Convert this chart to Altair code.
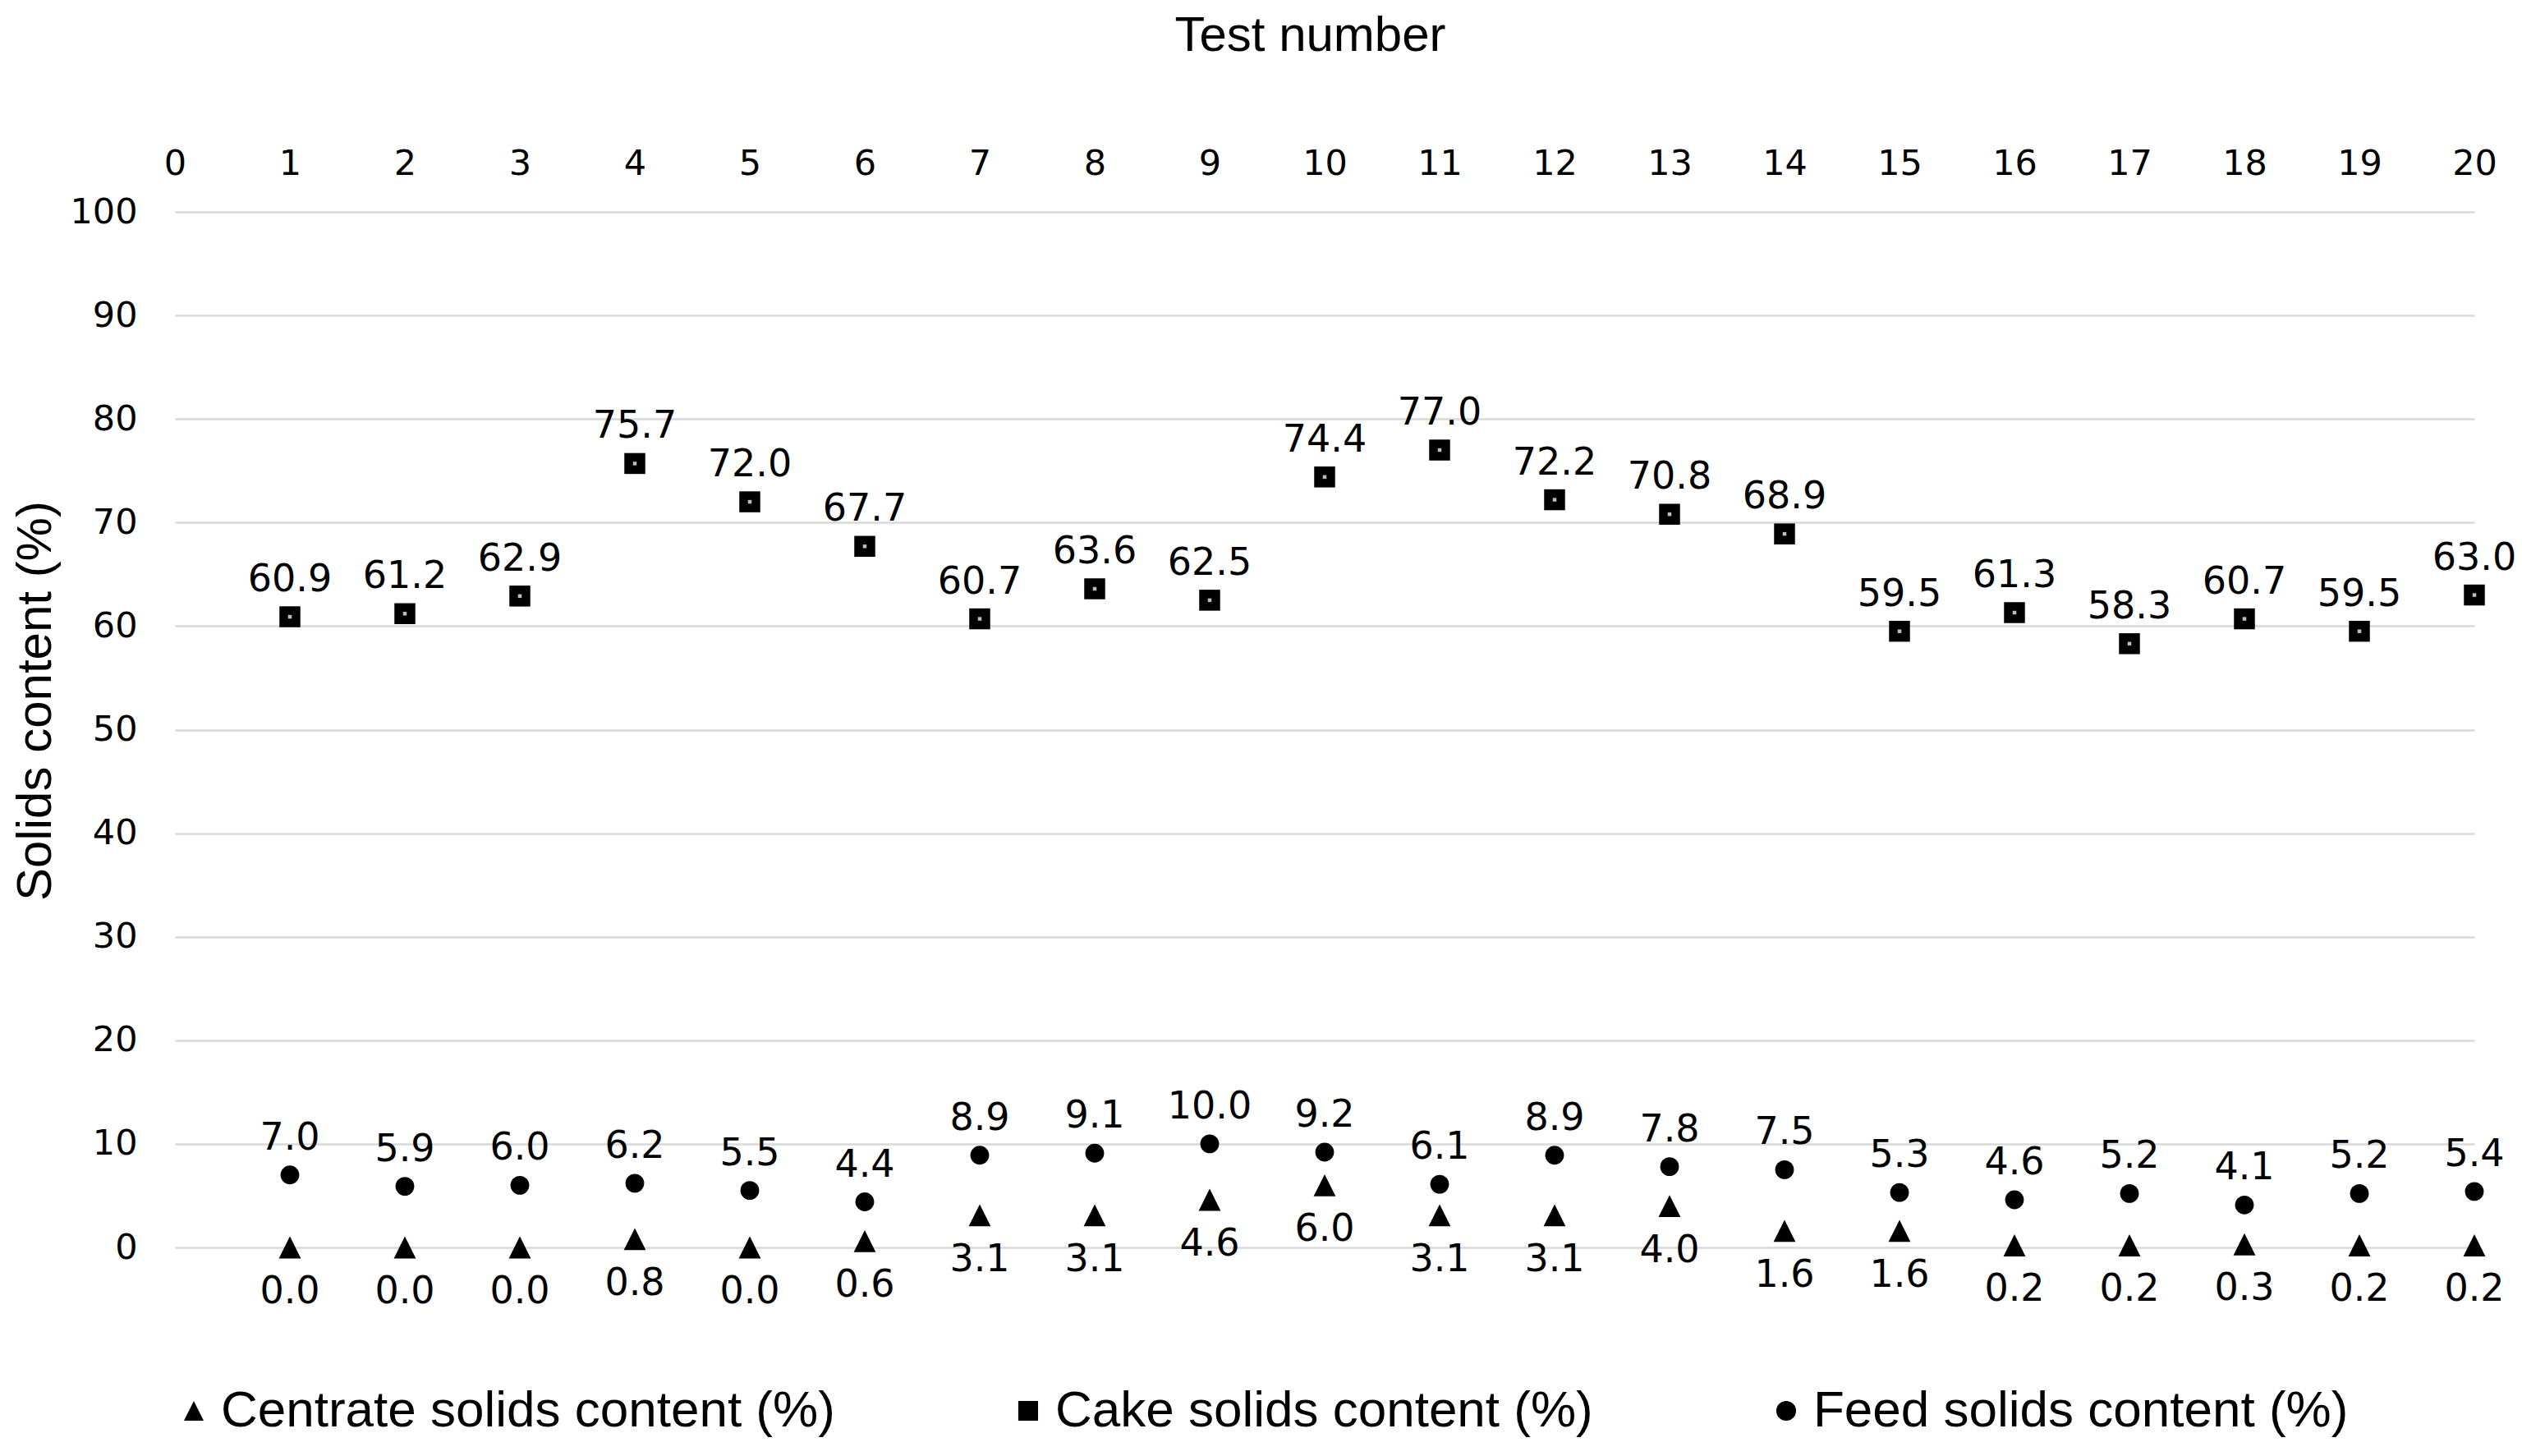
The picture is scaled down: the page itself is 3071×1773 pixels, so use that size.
import altair as alt
import pandas as pd

# values
tests = list(range(1, 21))
cake = [60.9, 61.2, 62.9, 75.7, 72.0, 67.7, 60.7, 63.6, 62.5, 74.4,
        77.0, 72.2, 70.8, 68.9, 59.5, 61.3, 58.3, 60.7, 59.5, 63.0]
feed = [7.0, 5.9, 6.0, 6.2, 5.5, 4.4, 8.9, 9.1, 10.0, 9.2,
        6.1, 8.9, 7.8, 7.5, 5.3, 4.6, 5.2, 4.1, 5.2, 5.4]
centrate = [0.0, 0.0, 0.0, 0.8, 0.0, 0.6, 3.1, 3.1, 4.6, 6.0,
            3.1, 3.1, 4.0, 1.6, 1.6, 0.2, 0.2, 0.3, 0.2, 0.2]
series_names = ["Centrate solids content (%)",
                "Cake solids content (%)",
                "Feed solids content (%)"]
x_ticks = list(range(0, 21))
y_ticks = list(range(0, 101, 10))

df = pd.DataFrame({
    "test": tests * 3,
    "value": centrate + cake + feed,
    "series": [series_names[0]] * 20 + [series_names[1]] * 20 + [series_names[2]] * 20,
})

TICK_FONT = "DejaVu Sans"
TEXT_FONT = "Liberation Sans"
TRIANGLE = "M0,-1L1,1L-1,1Z"

x = alt.X("test:Q",
          scale=alt.Scale(domain=[0, 20], nice=False, zero=False),
          axis=alt.Axis(orient="top", values=x_ticks, format="d",
                        title="Test number", titleFont=TEXT_FONT, titleFontSize=60,
                        titleFontWeight="normal", titleColor="black",
                        titleX=1382, titleY=-215, titleBaseline="middle",
                        labelFont=TICK_FONT, labelFontSize=43, labelColor="black",
                        labelPadding=37, ticks=False, tickSize=0, domain=False,
                        grid=False, labelFlush=False))
y = alt.Y("value:Q",
          scale=alt.Scale(domain=[0, 100], nice=False),
          axis=alt.Axis(values=y_ticks, title="Solids content (%)",
                        titleFont=TEXT_FONT, titleFontSize=60, titleFontWeight="normal",
                        titleColor="black", titleAngle=-90, titleX=-170, titleY=595,
                        titleAlign="center", titleBaseline="middle",
                        labelFont=TICK_FONT, labelFontSize=43, labelColor="black",
                        labelPadding=46, ticks=False, tickSize=0, domain=False,
                        grid=True, gridColor="#d9d9d9", gridWidth=2.5))

base = alt.Chart(df)

marker_size = (
    alt.when(alt.datum.series == series_names[2]).then(alt.value(520))
    .when(alt.datum.series == series_names[0]).then(alt.value(720))
    .otherwise(alt.value(650))
)

points = base.mark_point(filled=True, opacity=1, color="black").encode(
    x=x, y=y,
    shape=alt.Shape("series:N",
                    scale=alt.Scale(domain=series_names,
                                    range=[TRIANGLE, "square", "circle"]),
                    legend=alt.Legend(title=None, orient="none", legendX=-8, legendY=1429,
                                      direction="horizontal", padding=0,
                                      labelFont=TEXT_FONT, labelFontSize=62,
                                      labelColor="black", labelLimit=0, labelOffset=2,
                                      symbolFillColor="black", symbolStrokeColor="black",
                                      symbolType="circle", symbolSize=580,
                                      columnPadding=204)),
    size=marker_size,
)

# small light centre in the square markers
dots = base.transform_filter(alt.datum.series == series_names[1]).mark_point(
    filled=True, shape="square", size=20, color="#bdbdbd", opacity=1
).encode(x=x, y=y)

above = base.transform_filter(alt.datum.series != series_names[0]).mark_text(
    font=TICK_FONT, fontSize=46, color="black", baseline="alphabetic", dy=-31
).encode(x=x, y=y, text=alt.Text("value:Q", format=".1f"))

below = base.transform_filter(alt.datum.series == series_names[0]).mark_text(
    font=TICK_FONT, fontSize=46, color="black", baseline="alphabetic", dy=68
).encode(x=x, y=y, text=alt.Text("value:Q", format=".1f"))

chart = alt.layer(points, dots, above, below).properties(
    width=2800,
    height=1261,
    autosize="none",
    padding={"left": 205, "top": 250, "right": 50, "bottom": 240},
).configure_view(stroke=None)

chart.save("out.html", embed_options={"renderer": "svg", "actions": False})
